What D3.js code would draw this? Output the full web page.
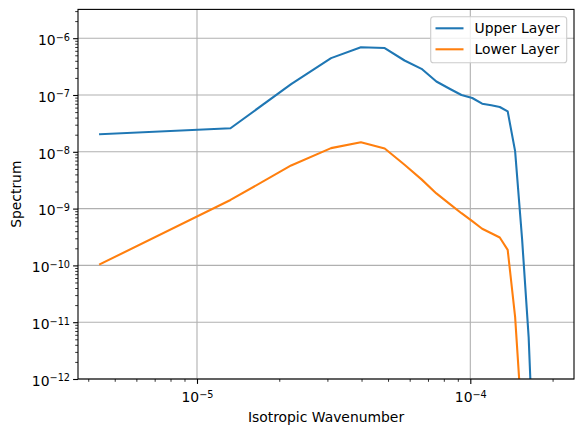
<!DOCTYPE html>
<html>
<head>
<meta charset="utf-8">
<script src="https://cdn.jsdelivr.net/npm/d3@7"></script>
<style>
    body { margin: 0; background: #fff; }
    svg { font-family: "DejaVu Sans", sans-serif; }
</style>
</head>
<body>
<div id="spectrum-plot"></div>
<script>
// 波数 (各向同性), 数据点
const wavenumbers = [
    4.42e-6, 1.326e-5, 2.21e-5, 3.094e-5, 3.978e-5, 4.862e-5, 5.746e-5, 6.63e-5,
    7.514e-5, 8.398e-5, 9.282e-5, 1.0166e-4, 1.105e-4, 1.1934e-4, 1.2818e-4,
    1.3702e-4, 1.4586e-4, 1.547e-4, 1.635e-4, 1.7238e-4
];

// 上层谱
const upperLayer = [
    2.04e-8, 2.6e-8, 1.55e-7, 4.46e-7, 6.95e-7, 6.7e-7, 4.05e-7, 2.89e-7,
    1.73e-7, 1.29e-7, 1.0e-7, 8.86e-8, 7.03e-8, 6.6e-8, 6.15e-8,
    5.15e-8, 1.03e-8, 2.9e-10, 5.4e-12, 1e-14
];

// 下层谱
const lowerLayer = [
    1.05e-10, 1.42e-9, 5.75e-9, 1.16e-8, 1.47e-8, 1.14e-8, 5.9e-9, 3.27e-9,
    1.85e-9, 1.21e-9, 8.3e-10, 6.0e-10, 4.42e-10, 3.69e-10, 3.1e-10,
    1.88e-10, 1.24e-11, 1.6e-13, 1e-15, 1e-16
];

const seriesNames = ["Upper Layer", "Lower Layer"];
const seriesColors = ["#1f77b4", "#ff7f0e"];

const xTickExps = [-5, -4];
const yTickExps = [-12, -11, -10, -9, -8, -7, -6];

const xDomain = [Math.pow(10, -5.4354), Math.pow(10, -3.6206)];
const yDomain = [1e-12, Math.pow(10, -5.493)];

drawSpectrum();

function drawSpectrum() {
    const width = 584, height = 435;
    const left = 78, right = 574, top = 9.4, bottom = 379;
    const fontSize = 13.9;

    const svg = d3.select("#spectrum-plot")
        .append("svg")
        .attr("width", width)
        .attr("height", height);

    const xScale = d3.scaleLog().domain(xDomain).range([left, right]);
    const yScale = d3.scaleLog().domain(yDomain).range([bottom, top]);

    // 网格
    const grid = svg.append("g").attr("class", "grid");
    xTickExps.forEach(e => {
        const x = xScale(Math.pow(10, e));
        grid.append("line")
            .attr("x1", x).attr("x2", x).attr("y1", top).attr("y2", bottom)
            .attr("stroke", "#b0b0b0").attr("stroke-width", 1.1);
    });
    yTickExps.forEach(e => {
        const y = yScale(Math.pow(10, e));
        grid.append("line")
            .attr("x1", left).attr("x2", right).attr("y1", y).attr("y2", y)
            .attr("stroke", "#b0b0b0").attr("stroke-width", 1.1);
    });

    // 裁剪区域
    svg.append("clipPath").attr("id", "plot-clip")
        .append("rect")
        .attr("x", left).attr("y", top)
        .attr("width", right - left).attr("height", bottom - top);

    const line = d3.line()
        .x(d => xScale(d[0]))
        .y(d => yScale(d[1]));

    [upperLayer, lowerLayer].forEach((vals, i) => {
        svg.append("path")
            .datum(wavenumbers.map((k, j) => [k, vals[j]]))
            .attr("clip-path", "url(#plot-clip)")
            .attr("fill", "none")
            .attr("stroke", seriesColors[i])
            .attr("stroke-width", 2.08)
            .attr("stroke-linejoin", "round")
            .attr("stroke-linecap", "square")
            .attr("d", line);
    });

    // 坐标轴
    const xMajor = xTickExps.map(e => Math.pow(10, e));
    const xMinor = xScale.ticks().filter(t => {
        const m = t / Math.pow(10, Math.floor(Math.log10(t) + 1e-9));
        return Math.abs(m - 1) > 1e-6;
    });
    const yMajor = yTickExps.map(e => Math.pow(10, e));
    const yMinor = yScale.ticks().filter(t => {
        const m = t / Math.pow(10, Math.floor(Math.log10(t) + 1e-9));
        return Math.abs(m - 1) > 1e-6;
    });

    svg.append("g")
        .attr("transform", `translate(0,${bottom})`)
        .call(d3.axisBottom(xScale).tickValues(xMinor).tickSize(2.8).tickFormat(""))
        .call(g => g.select(".domain").remove())
        .selectAll("line").attr("stroke-width", 0.8);

    const xAxis = svg.append("g")
        .attr("transform", `translate(0,${bottom})`)
        .call(d3.axisBottom(xScale).tickValues(xMajor).tickSize(4.9).tickPadding(4.9));
    xAxis.select(".domain").remove();
    xAxis.selectAll("line").attr("stroke-width", 1.1);

    svg.append("g")
        .attr("transform", `translate(${left},0)`)
        .call(d3.axisLeft(yScale).tickValues(yMinor).tickSize(2.8).tickFormat(""))
        .call(g => g.select(".domain").remove())
        .selectAll("line").attr("stroke-width", 0.8);

    const yAxis = svg.append("g")
        .attr("transform", `translate(${left},0)`)
        .call(d3.axisLeft(yScale).tickValues(yMajor).tickSize(4.9).tickPadding(4.9));
    yAxis.select(".domain").remove();
    yAxis.selectAll("line").attr("stroke-width", 1.1);

    // 10^n 形式标签
    function powerLabel(sel) {
        sel.each(function(d) {
            const e = Math.round(Math.log10(d));
            const t = d3.select(this).text("")
                .attr("fill", "#000")
                .style("font-size", fontSize + "px")
                .style("font-family", "DejaVu Sans");
            t.append("tspan").text("10");
            t.append("tspan")
                .attr("dy", "-0.45em")
                .style("font-size", (fontSize * 0.7) + "px")
                .text("\u2212" + Math.abs(e));
        });
    }
    xAxis.selectAll("text").call(powerLabel).attr("y", 13.5).attr("dy", "0.71em");
    yAxis.selectAll("text").call(powerLabel).attr("dy", "0.45em").attr("x", -8);

    // 边框
    svg.append("rect")
        .attr("x", left).attr("y", top)
        .attr("width", right - left).attr("height", bottom - top)
        .attr("fill", "none").attr("stroke", "#000").attr("stroke-width", 1.1);

    // 坐标轴标题
    svg.append("text")
        .attr("x", (left + right) / 2)
        .attr("y", 421.5)
        .attr("text-anchor", "middle")
        .style("font-size", fontSize + "px")
        .text("Isotropic Wavenumber");

    svg.append("text")
        .attr("transform", `translate(21,${(top + bottom) / 2}) rotate(-90)`)
        .attr("text-anchor", "middle")
        .style("font-size", fontSize + "px")
        .text("Spectrum");

    // 图例
    const legend = svg.append("g").attr("class", "legend");
    legend.append("rect")
        .attr("x", 430.7).attr("y", 16.7)
        .attr("width", 136).attr("height", 46)
        .attr("rx", 2.8)
        .attr("fill", "#fff").attr("fill-opacity", 0.8)
        .attr("stroke", "#cccccc").attr("stroke-width", 1.1);
    seriesNames.forEach((name, i) => {
        const y = 28.3 + i * 21;
        legend.append("line")
            .attr("x1", 435.5).attr("x2", 463.5)
            .attr("y1", y).attr("y2", y)
            .attr("stroke", seriesColors[i]).attr("stroke-width", 2.08);
        legend.append("text")
            .attr("x", 474.5).attr("y", y)
            .attr("dy", "0.36em")
            .style("font-size", fontSize + "px")
            .text(name);
    });
}
</script>
</body>
</html>
